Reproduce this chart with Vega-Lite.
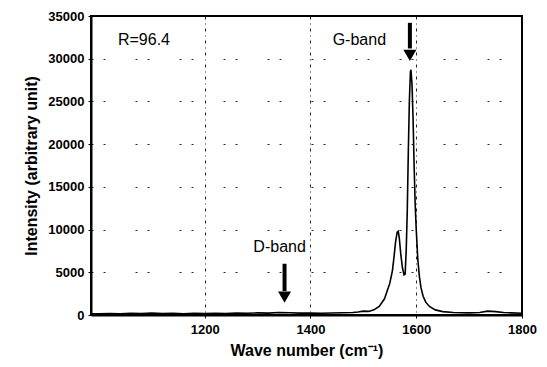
{
  "$schema": "https://vega.github.io/schema/vega-lite/v6.json",
  "autosize": "none",
  "width": 431,
  "height": 299,
  "padding": {"left": 91, "top": 16, "right": 25, "bottom": 52},
  "background": "white",
  "config": {
    "font": "Liberation Sans",
    "view": {"stroke": "black", "strokeWidth": 2},
    "axis": {
      "domainColor": "black", "domainWidth": 2,
      "tickColor": "black", "tickSize": 3,
      "labelColor": "black", "labelFontWeight": "bold", "labelFontSize": 13, "labelFont": "Liberation Sans",
      "titleColor": "black", "titleFontWeight": "bold", "titleFontSize": 16, "titleFont": "Liberation Sans",
      "gridColor": "black", "gridOpacity": 0.85, "gridWidth": 1
    }
  },
  "datasets": {
    "spectrum": [
      {"wn": 985, "I": 150}, {"wn": 1000, "I": 150}, {"wn": 1020, "I": 180}, {"wn": 1040, "I": 130}, {"wn": 1060, "I": 200},
      {"wn": 1080, "I": 160}, {"wn": 1100, "I": 220}, {"wn": 1120, "I": 170}, {"wn": 1140, "I": 200},
      {"wn": 1160, "I": 150}, {"wn": 1180, "I": 210}, {"wn": 1200, "I": 180}, {"wn": 1220, "I": 200},
      {"wn": 1240, "I": 170}, {"wn": 1260, "I": 230}, {"wn": 1280, "I": 200}, {"wn": 1300, "I": 250},
      {"wn": 1320, "I": 220}, {"wn": 1340, "I": 300}, {"wn": 1360, "I": 260}, {"wn": 1380, "I": 220},
      {"wn": 1400, "I": 240}, {"wn": 1420, "I": 200}, {"wn": 1440, "I": 230}, {"wn": 1460, "I": 260},
      {"wn": 1480, "I": 300}, {"wn": 1490, "I": 350}, {"wn": 1500, "I": 450}, {"wn": 1510, "I": 420},
      {"wn": 1520, "I": 600}, {"wn": 1530, "I": 1000}, {"wn": 1540, "I": 1900}, {"wn": 1545, "I": 2800},
      {"wn": 1550, "I": 3700}, {"wn": 1555, "I": 5200}, {"wn": 1558, "I": 6800}, {"wn": 1561, "I": 8600},
      {"wn": 1564, "I": 9700}, {"wn": 1566, "I": 9800}, {"wn": 1568, "I": 9000}, {"wn": 1571, "I": 7000},
      {"wn": 1574, "I": 5500}, {"wn": 1577, "I": 4700}, {"wn": 1579, "I": 4800}, {"wn": 1581, "I": 7500},
      {"wn": 1583, "I": 12000}, {"wn": 1585, "I": 19000}, {"wn": 1587, "I": 25000}, {"wn": 1589, "I": 28500},
      {"wn": 1590, "I": 28700}, {"wn": 1592, "I": 27000}, {"wn": 1594, "I": 23000}, {"wn": 1596, "I": 17500},
      {"wn": 1598, "I": 13000}, {"wn": 1600, "I": 10000}, {"wn": 1603, "I": 6500}, {"wn": 1606, "I": 4500},
      {"wn": 1609, "I": 3200}, {"wn": 1613, "I": 2200}, {"wn": 1618, "I": 1500}, {"wn": 1625, "I": 1000},
      {"wn": 1636, "I": 600}, {"wn": 1650, "I": 400}, {"wn": 1670, "I": 300}, {"wn": 1700, "I": 250},
      {"wn": 1720, "I": 300}, {"wn": 1735, "I": 450}, {"wn": 1750, "I": 400}, {"wn": 1765, "I": 300},
      {"wn": 1780, "I": 250}, {"wn": 1800, "I": 200}
    ],
    "arrows": [
      {"x": 1351, "y1": 6000, "y2": 2800, "tip": 2100},
      {"x": 1588, "y1": 34200, "y2": 31200, "tip": 30400}
    ],
    "labels": [
      {"x": 1036, "y": 32200, "text": "R=96.4"},
      {"x": 1442, "y": 32200, "text": "G-band"},
      {"x": 1292, "y": 8000, "text": "D-band"}
    ]
  },
  "layer": [
    {
      "data": {"name": "spectrum"},
      "mark": {"type": "line", "color": "black", "strokeWidth": 1.6, "clip": true},
      "encoding": {
        "x": {"field": "wn", "type": "quantitative",
              "scale": {"domain": [985, 1800], "nice": false, "zero": false},
              "axis": {"values": [1200, 1400, 1600, 1800], "format": "d", "title": "Wave number (cm⁻¹)", "titlePadding": 6,
                       "gridDash": [3, 4, 1, 4], "labelPadding": 5, "labelFlush": false, "labelOverlap": false}},
        "y": {"field": "I", "type": "quantitative",
              "scale": {"domain": [0, 35000], "nice": false},
              "axis": {"values": [0, 5000, 10000, 15000, 20000, 25000, 30000, 35000], "format": "d",
                       "title": "Intensity (arbitrary unit)", "titlePadding": 8,
                       "gridDash": [2, 10, 2, 30], "labelPadding": 4}}
      }
    },
    {
      "data": {"name": "arrows"},
      "mark": {"type": "rule", "color": "black", "strokeWidth": 4},
      "encoding": {
        "x": {"field": "x", "type": "quantitative"},
        "y": {"field": "y1", "type": "quantitative"},
        "y2": {"field": "y2"}
      }
    },
    {
      "data": {"name": "arrows"},
      "mark": {"type": "point", "shape": "triangle-down", "filled": true, "color": "black", "size": 170, "opacity": 1},
      "encoding": {
        "x": {"field": "x", "type": "quantitative"},
        "y": {"field": "tip", "type": "quantitative"}
      }
    },
    {
      "data": {"name": "labels"},
      "mark": {"type": "text", "align": "left", "baseline": "middle", "fontSize": 16, "color": "black", "font": "Liberation Sans"},
      "encoding": {
        "x": {"field": "x", "type": "quantitative"},
        "y": {"field": "y", "type": "quantitative"},
        "text": {"field": "text"}
      }
    }
  ]
}
